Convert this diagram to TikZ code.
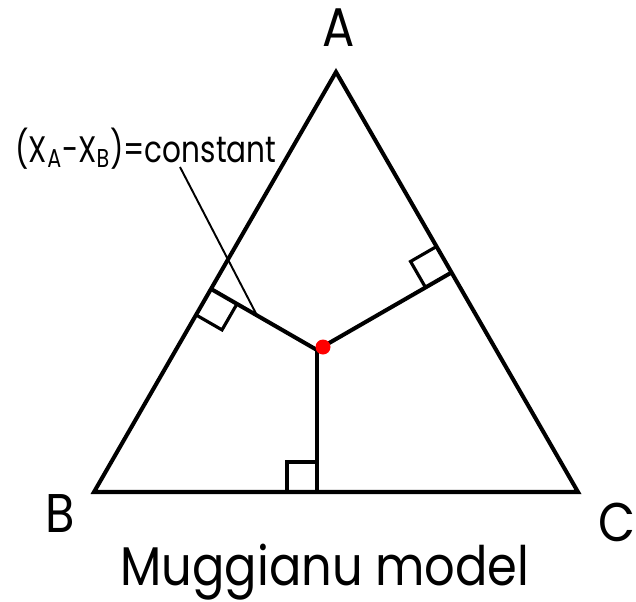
\documentclass[tikz,border=0pt]{standalone}
\usepackage{fontspec}
\setmainfont{Poppins}[FakeStretch=0.88]
\newfontfamily\lblfont{Poppins}[FakeStretch=0.8]
\usetikzlibrary{calc}
\begin{document}
\begin{tikzpicture}[x=0.02cm,y=-0.02cm]
    \useasboundingbox (0,0) rectangle (636,602);
    \tikzset{edge/.style={line width=2.3pt, line join=miter},
             rightang/.style={line width=1.8pt},
             vlabel/.style={font=\fontsize{31}{31}\selectfont}}

    %vertices
    \coordinate (A) at (336,72);
    \coordinate (B) at (94,492);
    \coordinate (C) at (578,492);
    \coordinate (P) at (317,350);

    %feet of perpendiculars
    \coordinate (fAB) at ($(B)!(P)!(A)$);
    \coordinate (fAC) at ($(A)!(P)!(C)$);
    \coordinate (fBC) at ($(B)!(P)!(C)$);

    %triangle
    \draw[edge] (A) -- (B) -- (C) -- cycle;

    %perpendiculars
    \draw[edge] (P) -- (fAB);
    \draw[edge] (P) -- (fAC);
    \draw[edge] (P) -- (fBC);

    %right angles
    \coordinate (uBC) at ($(fBC)!0.6cm!(B)$);
    \coordinate (vBC) at ($(fBC)!0.6cm!(P)$);
    \draw[rightang] (uBC) -- ($(uBC)+(vBC)-(fBC)$) -- (vBC);
    \coordinate (uAB) at ($(fAB)!0.6cm!(B)$);
    \coordinate (vAB) at ($(fAB)!0.6cm!(P)$);
    \draw[rightang] (uAB) -- ($(uAB)+(vAB)-(fAB)$) -- (vAB);
    \coordinate (uAC) at ($(fAC)!0.6cm!(A)$);
    \coordinate (vAC) at ($(fAC)!0.6cm!(P)$);
    \draw[rightang] (uAC) -- ($(uAC)+(vAC)-(fAC)$) -- (vAC);

    %point
    \fill[red] (323,347) circle (0.15cm);

    %labels
    \node[vlabel] (lA) at (339,28) {A};
    \node[vlabel] (lB) at (60,514) {B};
    \node[vlabel] (lC) at (617,522) {C};
    \node[font=\lblfont\fontsize{21}{21}\selectfont, anchor=base] (lbl) at (146,162) {(X\textsubscript{A}-X\textsubscript{B})=constant};
    \coordinate (lead) at ($(P)!0.566!(fAB)$);
    \draw[line width=1.1pt] (180,167) -- (lead);
    \node[vlabel] (title) at (325,572) {Muggianu model};
\end{tikzpicture}
\end{document}
